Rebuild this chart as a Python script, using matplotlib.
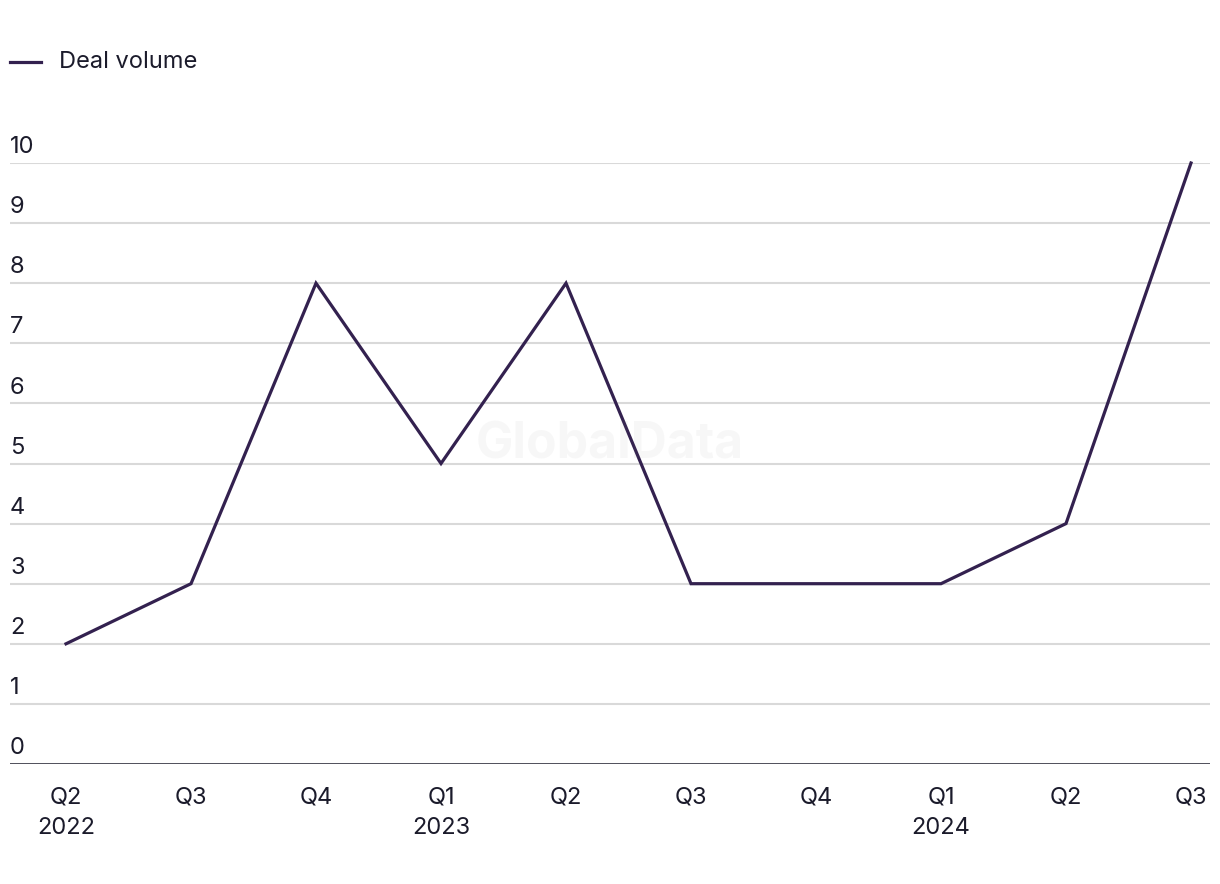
import matplotlib
matplotlib.use("Agg")
import matplotlib.pyplot as plt

plt.rcParams['font.family'] = ['Inter', 'DejaVu Sans']

# 数据
quarters = ['Q2\n2022', 'Q3', 'Q4', 'Q1\n2023', 'Q2', 'Q3', 'Q4', 'Q1\n2024', 'Q2', 'Q3']
deal_volume = [2, 3, 8, 5, 8, 3, 3, 3, 4, 10]
y_ticks = list(range(0, 11))

line_color = '#33214f'
text_color = '#1b1b2b'
grid_color = '#d9d9d9'

fig = plt.figure(figsize=(12.2, 8.84), dpi=100)
ax = fig.add_axes([10 / 1220, 120 / 884, 1200 / 1220, 601 / 884])

x = list(range(len(quarters)))
ax.plot(x, deal_volume, color=line_color, linewidth=2.3, clip_on=False, zorder=3,
        solid_joinstyle='miter')

ax.set_xlim(-0.448, len(quarters) - 1 + 0.152)
ax.set_ylim(0, 10)

# 网格线
for v in y_ticks[1:]:
    ax.axhline(v, color=grid_color, linewidth=1.5, zorder=1)
ax.axhline(0, color=text_color, linewidth=1.8, zorder=2)

for s in ax.spines.values():
    s.set_visible(False)

ax.set_yticks([])
ax.set_xticks(x)
ax.set_xticklabels(quarters, fontsize=17, color=text_color, linespacing=1.5, va='top')
ax.tick_params(axis='x', length=0, pad=16.5)

# y轴标签放在网格线上方
for v in y_ticks:
    ax.annotate(str(v), xy=(0, v), xycoords=('axes fraction', 'data'),
                xytext=(0, 3.5), textcoords='offset points',
                ha='left', va='bottom', fontsize=17, color=text_color)

# 图例
fig.lines.append(plt.Line2D([10 / 1220, 41 / 1220], [1 - 62 / 884, 1 - 62 / 884],
                            transform=fig.transFigure, color=line_color, linewidth=2.3))
fig.text(59 / 1220, 1 - 62 / 884, 'Deal volume', ha='left', va='center',
         fontsize=17, color=text_color)

# 水印
ax.text(0.5, 0.53, 'GlobalData', transform=ax.transAxes, ha='center', va='center',
        fontsize=36, fontweight='bold', color='gray', alpha=0.06, zorder=4)

plt.savefig('out.png', dpi=100)
